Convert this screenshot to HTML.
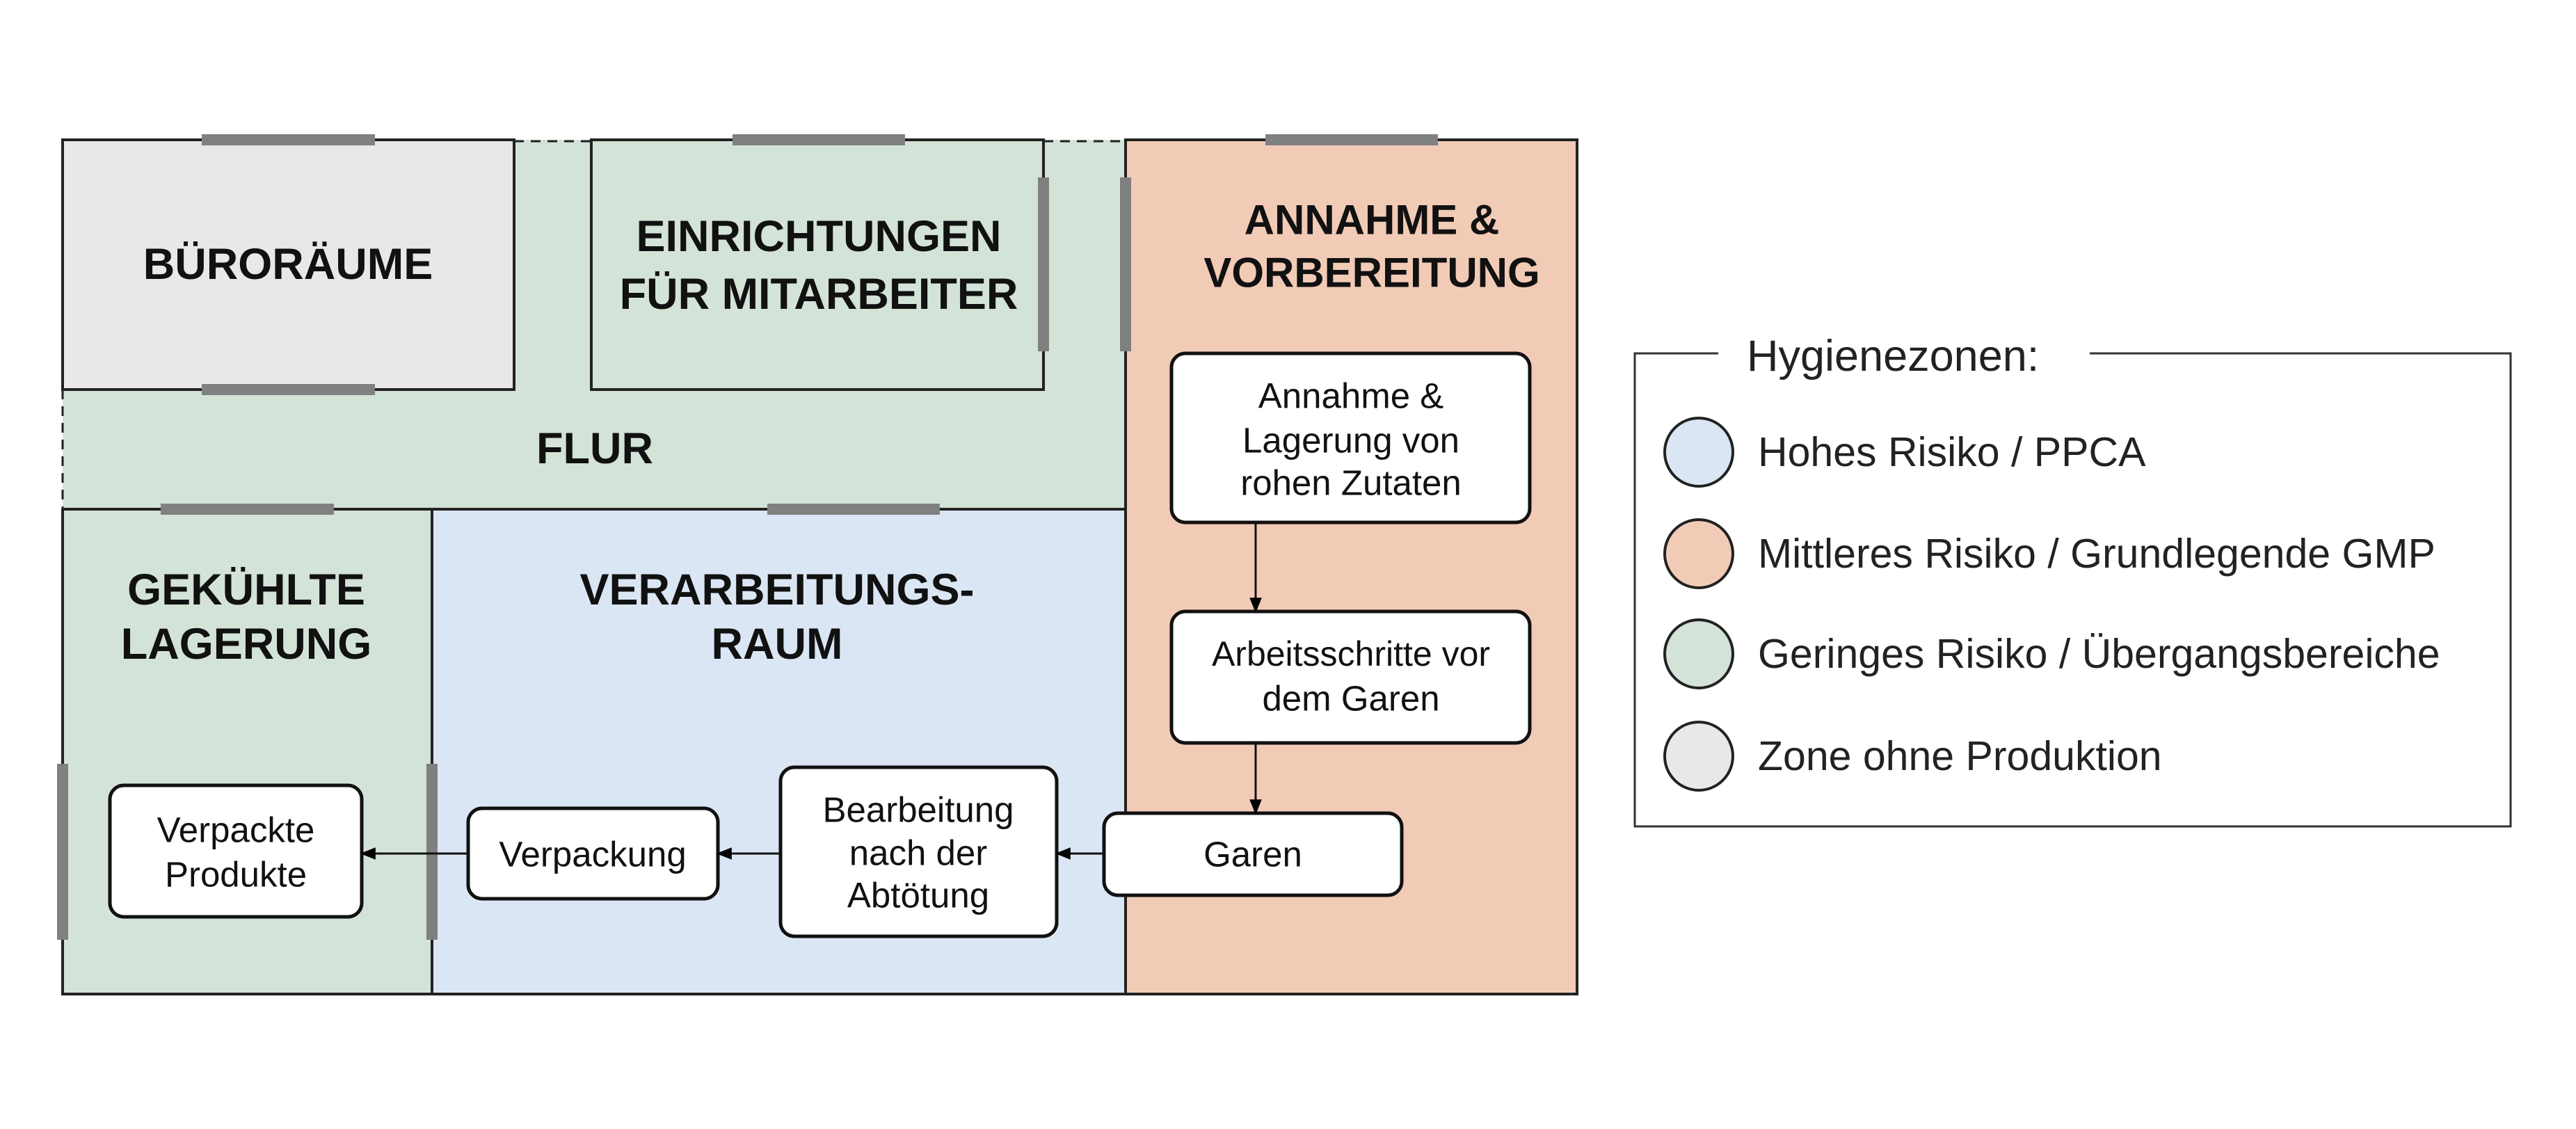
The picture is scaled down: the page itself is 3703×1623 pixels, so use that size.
<!DOCTYPE html>
<html><head><meta charset="utf-8"><style>html,body{margin:0;padding:0;background:#fff}svg{display:block}</style></head><body>
<svg width="3703" height="1623" viewBox="0 0 3703 1623" xmlns="http://www.w3.org/2000/svg" font-family="Liberation Sans, sans-serif">
<defs>
<marker id="ah" viewBox="0 0 10 10" refX="9" refY="5" markerWidth="22" markerHeight="22" markerUnits="userSpaceOnUse" orient="auto"><path d="M0,1 L10,5 L0,9 z" fill="#000"/></marker></defs>
<rect x="90" y="201" width="1528" height="531" fill="#d4e3d7"/>
<rect x="90" y="201" width="649" height="359" fill="#e8e8e8"/>
<rect x="1618" y="201" width="649" height="1228" fill="#f2cbb7"/>
<rect x="90" y="732" width="531" height="697" fill="#d4e3d7"/>
<rect x="621" y="732" width="997" height="697" fill="#dae6f4"/>
<g stroke="#222" stroke-width="4" fill="none">
<path d="M90,201 H739 V560 H90 Z"/>
<path d="M850,201 H1500 V560 H850 Z"/>
<path d="M1618,201 H2267 V1429 H1618 Z"/>
<path d="M90,732 H1618 M90,732 V1429 H1618 M621,732 V1429"/>
</g>
<g stroke="#222" stroke-width="3" stroke-dasharray="14,10" fill="none">
<path d="M739,203 H850 M1500,203 H1618 M90,560 V732"/>
</g>
<g fill="#808080">
<rect x="290" y="193" width="249" height="16"/>
<rect x="290" y="552" width="249" height="16"/>
<rect x="1053" y="193" width="248" height="16"/>
<rect x="1819" y="193" width="248" height="16"/>
<rect x="1492" y="255" width="16" height="250"/>
<rect x="1610" y="255" width="16" height="250"/>
<rect x="231" y="724" width="249" height="16"/>
<rect x="1103" y="724" width="248" height="16"/>
<rect x="82" y="1098" width="16" height="253"/>
<rect x="613" y="1098" width="16" height="253"/>
</g>
<g font-weight="bold" font-size="63" text-anchor="middle" dominant-baseline="central" fill="#111">
<text x="414" y="380">BÜRORÄUME</text>
<text x="1177" y="340">EINRICHTUNGEN</text>
<text x="1177" y="423">FÜR MITARBEITER</text>
<text x="855" y="645">FLUR</text>
<text x="1972" y="316" font-size="60">ANNAHME &amp;</text>
<text x="1972" y="392" font-size="60">VORBEREITUNG</text>
<text x="354" y="848">GEKÜHLTE</text>
<text x="354" y="926">LAGERUNG</text>
<text x="1117" y="848">VERARBEITUNGS-</text>
<text x="1117" y="926">RAUM</text>
</g>
<g fill="#fff" stroke="#111" stroke-width="5">
<rect x="1684" y="508" width="515" height="243" rx="20"/>
<rect x="1684" y="879" width="515" height="189" rx="20"/>
<rect x="1587" y="1169" width="428" height="118" rx="20"/>
<rect x="1122" y="1103" width="397" height="243" rx="20"/>
<rect x="673" y="1162" width="359" height="130" rx="20"/>
<rect x="158" y="1129" width="362" height="189" rx="20"/>
</g>
<g stroke="#111" stroke-width="3" fill="none" marker-end="url(#ah)">
<path d="M1805,751 V879"/>
<path d="M1805,1068 V1169"/>
<path d="M1587,1227 H1519"/>
<path d="M1122,1227 H1032"/>
<path d="M673,1227 H520"/>
</g>
<g font-size="51" text-anchor="middle" dominant-baseline="central" fill="#111">
<text x="1942" y="569">Annahme &amp;</text>
<text x="1942" y="633">Lagerung von</text>
<text x="1942" y="694">rohen Zutaten</text>
<text x="1942" y="940" font-size="50">Arbeitsschritte vor</text>
<text x="1942" y="1004">dem Garen</text>
<text x="1801" y="1228">Garen</text>
<text x="1320" y="1164">Bearbeitung</text>
<text x="1320" y="1226">nach der</text>
<text x="1320" y="1287">Abtötung</text>
<text x="852" y="1228">Verpackung</text>
<text x="339" y="1193">Verpackte</text>
<text x="339" y="1257">Produkte</text>
</g>
<path d="M2470,508 H2350 V1188 H3609 V508 H3004" fill="none" stroke="#333" stroke-width="3"/>
<text x="2511" y="512" font-size="63" dominant-baseline="central" fill="#222">Hygienezonen:</text>
<g stroke="#222" stroke-width="4">
<circle cx="2442" cy="650" r="49" fill="#dae6f4"/>
<circle cx="2442" cy="796" r="49" fill="#f2cbb7"/>
<circle cx="2442" cy="940" r="49" fill="#d4e3d7"/>
<circle cx="2442" cy="1087" r="49" fill="#e8e8e8"/>
</g>
<g font-size="59" dominant-baseline="central" fill="#222">
<text x="2527" y="650">Hohes Risiko / PPCA</text>
<text x="2527" y="796">Mittleres Risiko / Grundlegende GMP</text>
<text x="2527" y="940">Geringes Risiko / Übergangsbereiche</text>
<text x="2527" y="1087">Zone ohne Produktion</text>
</g>
</svg>
</body></html>
